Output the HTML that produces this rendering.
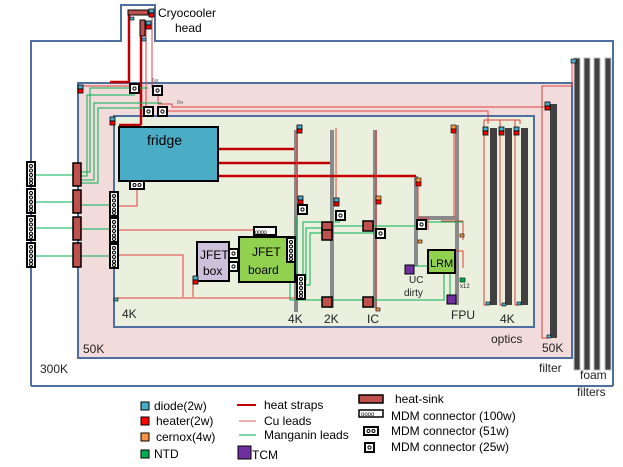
<!DOCTYPE html>
<html><head><meta charset="utf-8"><style>
body{margin:0;background:#fff}
svg{display:block;font-family:"Liberation Sans",sans-serif}
</style></head><body>
<svg width="623" height="467" viewBox="0 0 623 467" xmlns="http://www.w3.org/2000/svg">
<defs>
<g id="m5"><rect x="0" y="0" width="8" height="24" fill="#fff" stroke="#000" stroke-width="2"/><circle cx="4" cy="4" r="1.5" fill="none" stroke="#000"/><circle cx="4" cy="8.5" r="1.5" fill="none" stroke="#000"/><circle cx="4" cy="13" r="1.5" fill="none" stroke="#000"/><circle cx="4" cy="17.5" r="1.5" fill="none" stroke="#000"/><circle cx="4" cy="21" r="1.5" fill="none" stroke="#000"/></g>
<g id="m1"><rect x="0" y="0" width="9" height="9" fill="#fff" stroke="#000" stroke-width="2"/><circle cx="4.5" cy="4.5" r="1.6" fill="none" stroke="#000"/></g>
<g id="m2h"><rect x="0" y="0" width="14" height="8" fill="#fff" stroke="#000" stroke-width="2"/><circle cx="4.5" cy="4" r="1.5" fill="none" stroke="#000"/><circle cx="9.5" cy="4" r="1.5" fill="none" stroke="#000"/></g>
<g id="hs"><rect x="0" y="0" width="10" height="10" fill="#c0504d" stroke="#000" stroke-width="1.5"/></g>
<g id="dh"><rect x="0" y="0" width="5" height="4" fill="#4bacc6" stroke="#000" stroke-width=".8"/><rect x="0" y="4" width="5" height="4" fill="#f00" stroke="#000" stroke-width=".8"/></g>
</defs>
<path d="M31,386 V41 H121 V5 H155 V41 H613 V386" fill="none" stroke="#4f6fa0" stroke-width="2"/>
<line x1="31" y1="386" x2="613" y2="386" stroke="#4f6fa0" stroke-width="2"/>
<rect x="78" y="83" width="494" height="275" fill="#f2dcdb" stroke="#4f6fa0" stroke-width="2"/>
<rect x="114" y="116" width="420" height="211" fill="#ebf0de" stroke="#4f6fa0" stroke-width="2"/>
<g fill="#404040" stroke="#bbb" stroke-width="1"><rect x="574" y="58" width="6" height="312"/><rect x="584" y="58" width="6" height="312"/><rect x="594" y="58" width="6" height="312"/><rect x="605" y="58" width="6" height="312"/></g>
<rect x="550" y="104" width="7" height="234" fill="#404040"/>
<g fill="#404040"><rect x="490" y="128" width="7" height="177"/><rect x="505" y="128" width="7" height="177"/><rect x="521" y="128" width="7" height="177"/></g>
<g fill="#8a8a8a"><rect x="294" y="130" width="4" height="182"/><rect x="330" y="130" width="4" height="178"/><rect x="373" y="130" width="4" height="178"/><rect x="414" y="176" width="4" height="90"/><rect x="455" y="125" width="4" height="180"/><rect x="416" y="216" width="42" height="4"/></g>
<g stroke="#c00000" stroke-width="2.5" fill="none">
<line x1="218" y1="149" x2="294" y2="149"/><line x1="218" y1="163" x2="330" y2="163"/><line x1="218" y1="176" x2="416" y2="176"/>
<path d="M110,82 H129 V12"/><path d="M141,125 V22"/><path d="M119,125 H141"/>
</g>
<g stroke="#e04040" stroke-width="1" fill="none">
<path d="M82,86 H131"/><path d="M152,12 V88"/><path d="M146,22 V107"/>
<path d="M158,94 V104 H172 V107 H546"/>
<path d="M165,111 H488 V124"/>
<path d="M484,124 V120 H520 V124 M484,124 V305 H487 M500,120 V305 H503 M515,120 V305 H518"/>
<path d="M572,62 V86 H542 V338 H548"/>
<path d="M454,128 V218"/><path d="M418,180 V218 H428 V230"/>
<path d="M118,206 H137 V186"/><path d="M118,230 H255 V233"/><path d="M118,255 H183 V297"/>
<path d="M117,298 H296"/><path d="M193,297 V278"/>
<path d="M297,126 V200"/><path d="M336,128 V200"/><path d="M376,130 V310"/>
<path d="M441,221 H463 V240 M455,251 H463 V268"/>
</g>
<g stroke="#00b050" stroke-width="1" fill="none">
<path d="M35,175 H73 M35,202 H73 M35,228 H73 M35,256 H73"/>
<path d="M81,176 H87 V95 H135 M81,172 H90 V88 H148 M81,180 H94 V103 H162 M81,183 H98 V108 H148 M81,205 H110 M81,229 H110 M81,256 H110"/>
<path d="M296,278 V217 M290,281 V300 H444 V262 M296,280 H306 V228 H325 M300,285 H310 V233 H325 M300,290 H303 V222 H340"/>
<path d="M333,226 H370 H420 V222 H463 M333,233 H378 M409,266 H428 M450,273 V295"/>
</g>
<rect x="119" y="127" width="99" height="54" fill="#4bacc6" stroke="#000" stroke-width="2"/>
<text x="147" y="145" font-size="14">fridge</text>
<use href="#m2h" x="130" y="181"/>
<rect x="128" y="10" width="20" height="5" fill="#c0504d" stroke="#000"/>
<rect x="140" y="20" width="5" height="16" fill="#c0504d" stroke="#000"/>
<use href="#dh" x="149" y="9"/><use href="#dh" x="146" y="21"/>
<rect x="130" y="17" width="4" height="3" fill="#4bacc6" stroke="#000" stroke-width=".6"/>
<rect x="142" y="38" width="4" height="3" fill="#4bacc6" stroke="#000" stroke-width=".6"/>
<text x="158" y="17" font-size="12">Cryocooler</text><text x="175" y="32" font-size="12">head</text>
<use href="#m1" x="130" y="84"/><use href="#m1" x="153" y="86"/><use href="#m1" x="144" y="107"/><use href="#m1" x="158" y="107"/>
<text x="152" y="82" font-size="5" fill="#666">6w</text><text x="177" y="104" font-size="5" fill="#666">8w</text>
<use href="#dh" x="78" y="85"/><use href="#dh" x="110" y="117"/>
<g fill="#c0504d" stroke="#000" stroke-width="1.5"><rect x="73" y="163" width="8" height="23"/><rect x="73" y="190" width="8" height="23"/><rect x="73" y="217" width="8" height="23"/><rect x="73" y="243" width="8" height="24"/></g>
<use href="#m5" x="27" y="162"/><use href="#m5" x="27" y="189"/><use href="#m5" x="27" y="216"/><use href="#m5" x="27" y="243"/>
<use href="#m5" x="110" y="192"/><use href="#m5" x="110" y="218"/><use href="#m5" x="110" y="244"/>
<rect x="114" y="298" width="4" height="3" fill="#4bacc6" stroke="#000" stroke-width=".6"/>
<rect x="197" y="242" width="32" height="39" fill="#ccc0da" stroke="#000" stroke-width="2"/>
<text x="200" y="259" font-size="12">JFET</text><text x="203" y="275" font-size="12">box</text>
<use href="#m1" x="229" y="249"/><use href="#m1" x="229" y="262"/>
<rect x="239" y="237" width="56" height="45" fill="#92d050" stroke="#000" stroke-width="2"/>
<text x="252" y="256" font-size="12">JFET</text><text x="248" y="274" font-size="12">board</text>
<rect x="254" y="227" width="22" height="8" fill="#fff" stroke="#000" stroke-width="2"/>
<text x="255" y="234" font-size="6" letter-spacing="-0.5">oooo</text>
<use href="#m5" x="287" y="238"/>
<use href="#m5" x="297" y="275"/>
<use href="#dh" x="193" y="276"/>
<use href="#dh" x="297" y="125"/><use href="#dh" x="298" y="196"/><use href="#dh" x="334" y="198"/>
<rect x="376" y="196" width="5" height="4" fill="#f79646" stroke="#000" stroke-width=".6"/><rect x="376" y="200" width="5" height="4" fill="#f00" stroke="#000" stroke-width=".6"/>
<rect x="416" y="178" width="5" height="4" fill="#f79646" stroke="#000" stroke-width=".6"/><rect x="416" y="182" width="5" height="4" fill="#f00" stroke="#000" stroke-width=".6"/>
<rect x="451" y="125" width="5" height="4" fill="#f79646" stroke="#000" stroke-width=".6"/><rect x="451" y="129" width="5" height="4" fill="#f00" stroke="#000" stroke-width=".6"/>
<use href="#dh" x="483" y="127"/><use href="#dh" x="499" y="127"/><use href="#dh" x="514" y="127"/><use href="#dh" x="545" y="102"/>
<rect x="571" y="59" width="5" height="4" fill="#4bacc6" stroke="#000" stroke-width=".6"/>
<g fill="#4bacc6" stroke="#000" stroke-width=".6"><rect x="486" y="302" width="4" height="3"/><rect x="502" y="303" width="4" height="3"/><rect x="517" y="302" width="4" height="3"/><rect x="547" y="335" width="4" height="3"/></g>
<g fill="#f79646" stroke="#000" stroke-width=".6"><rect x="418" y="240" width="4" height="3"/><rect x="460" y="234" width="4" height="3"/><rect x="376" y="308" width="4" height="3"/></g>
<rect x="460" y="278" width="5" height="4" fill="#00b050" stroke="#000" stroke-width=".6"/>
<use href="#m1" x="298" y="205"/><use href="#m1" x="336" y="211"/><use href="#m1" x="376" y="229"/><use href="#m1" x="417" y="220"/>
<use href="#hs" x="322" y="222"/><use href="#hs" x="322" y="230"/><use href="#hs" x="363" y="221"/><use href="#hs" x="322" y="297"/><use href="#hs" x="363" y="297"/>
<rect x="428" y="250" width="27" height="23" fill="#92d050" stroke="#000" stroke-width="2"/>
<text x="430" y="267" font-size="11">LRM</text>
<rect x="405" y="265" width="9" height="9" fill="#7030a0" stroke="#000"/>
<rect x="447" y="295" width="9" height="9" fill="#7030a0" stroke="#000"/>
<g font-size="12" fill="#222">
<text x="409" y="283" font-size="10">UC</text><text x="404" y="296" font-size="10">dirty</text><text x="460" y="288" font-size="6">x12</text>
<text x="122" y="318">4K</text><text x="83" y="353">50K</text><text x="40" y="373">300K</text>
<text x="288" y="323">4K</text><text x="324" y="323">2K</text><text x="367" y="323">IC</text><text x="451" y="319">FPU</text>
<text x="500" y="323">4K</text><text x="491" y="343">optics</text><text x="542" y="352">50K</text><text x="539" y="372">filter</text>
<text x="580" y="379">foam</text><text x="577" y="396">filters</text>
</g>
<g font-size="12" fill="#000">
<rect x="141" y="402" width="8" height="8" fill="#4bacc6" stroke="#000"/><text x="154" y="410">diode(2w)</text>
<rect x="141" y="417" width="8" height="8" fill="#f00" stroke="#000"/><text x="156" y="425">heater(2w)</text>
<rect x="141" y="433" width="8" height="8" fill="#f79646" stroke="#000"/><text x="156" y="441">cernox(4w)</text>
<rect x="141" y="450" width="8" height="8" fill="#00b050" stroke="#000"/><text x="154" y="458">NTD</text>
<line x1="237" y1="405" x2="256" y2="405" stroke="#c00000" stroke-width="2"/><text x="264" y="409">heat straps</text>
<line x1="239" y1="421" x2="256" y2="421" stroke="#e06060" stroke-width="1"/><text x="264" y="425">Cu leads</text>
<line x1="239" y1="435" x2="256" y2="435" stroke="#00b050" stroke-width="1"/><text x="264" y="439">Manganin leads</text>
<rect x="238" y="446" width="13" height="13" fill="#7030a0" stroke="#000"/><text x="252" y="459">TCM</text>
<rect x="359" y="395" width="24" height="8" fill="#c0504d" stroke="#000" stroke-width="1.5"/><text x="395" y="403">heat-sink</text>
<rect x="359" y="410" width="24" height="7" fill="#fff" stroke="#000" stroke-width="1.5"/><text x="361" y="416" font-size="6">oooo</text><text x="391" y="420">MDM connector (100w)</text>
<use href="#m2h" x="364" y="427"/><text x="391" y="435">MDM connector (51w)</text>
<use href="#m1" x="365" y="443"/><text x="391" y="451">MDM connector (25w)</text>
</g>
</svg>
</body></html>
